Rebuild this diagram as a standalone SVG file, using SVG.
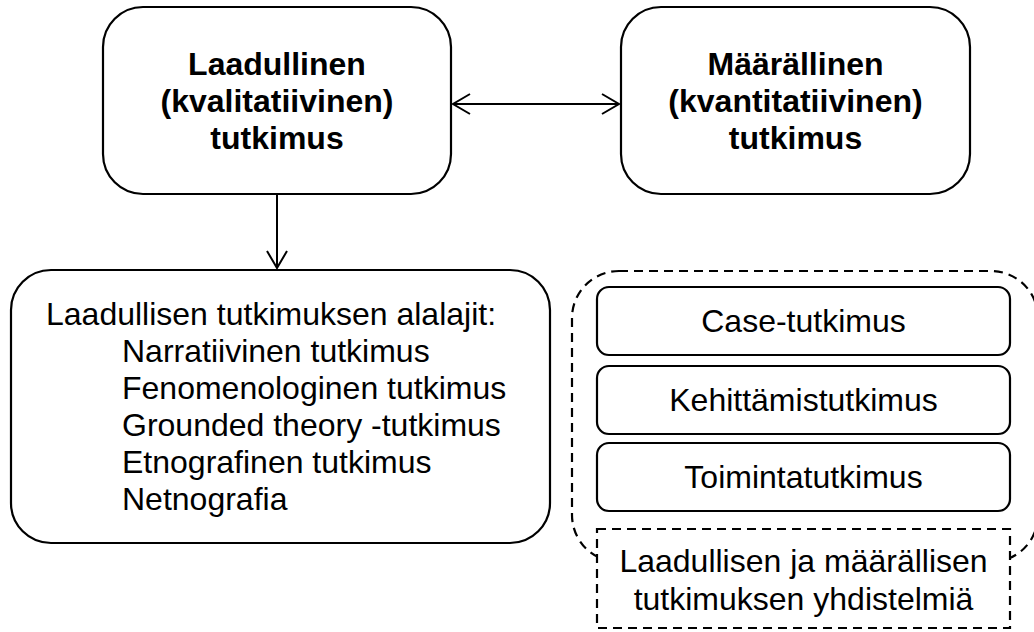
<svg xmlns="http://www.w3.org/2000/svg" width="1034" height="632" viewBox="0 0 1034 632">
  <style>
    .box { fill: #ffffff; stroke: #000000; stroke-width: 2.2; }
    .dash { fill: #ffffff; stroke: #000000; stroke-width: 2.2; stroke-dasharray: 9 6; }
    .dashnf { fill: none; stroke: #000000; stroke-width: 2.2; stroke-dasharray: 9 6; }
    .t { font-family: "Liberation Sans", Arial, sans-serif; font-size: 32px; fill: #000000; }
    .b { font-weight: bold; text-anchor: middle; }
    .c { text-anchor: middle; }
    .conn { stroke: #000000; stroke-width: 2; fill: none; }
  </style>
  <defs>
    <marker id="arrow" viewBox="-19 -11 21 22" refX="0" refY="0" markerWidth="21" markerHeight="22" markerUnits="userSpaceOnUse" orient="auto-start-reverse" overflow="visible">
      <path d="M-17,-10 L0,0 L-17,10" fill="none" stroke="#000000" stroke-width="2"/>
    </marker>
  </defs>
  <rect width="1034" height="632" fill="#ffffff"/>

  <g id="node-laadullinen">
    <rect class="box" x="103" y="7" width="348" height="187" rx="40" ry="40"/>
    <text class="t b" x="277" y="75">Laadullinen</text>
    <text class="t b" x="277" y="112">(kvalitatiivinen)</text>
    <text class="t b" x="277" y="149">tutkimus</text>
  </g>

  <g id="node-maarallinen">
    <rect class="box" x="621" y="7" width="349" height="187" rx="40" ry="40"/>
    <text class="t b" x="795.5" y="75">Määrällinen</text>
    <text class="t b" x="795.5" y="112">(kvantitatiivinen)</text>
    <text class="t b" x="795.5" y="149">tutkimus</text>
  </g>

  <g id="node-alalajit">
    <rect class="box" x="11" y="270" width="539" height="273" rx="40" ry="40"/>
    <text class="t" x="46" y="325">Laadullisen tutkimuksen alalajit:</text>
    <text class="t" x="122" y="362">Narratiivinen tutkimus</text>
    <text class="t" x="122" y="399">Fenomenologinen tutkimus</text>
    <text class="t" x="122" y="436">Grounded theory -tutkimus</text>
    <text class="t" x="122" y="473">Etnografinen tutkimus</text>
    <text class="t" x="122" y="510">Netnografia</text>
  </g>

  <g id="group-container">
    <rect class="dashnf" x="572" y="271" width="466" height="291" rx="47" ry="47"/>
  </g>

  <g id="node-case">
    <rect class="box" x="597" y="287" width="413" height="68" rx="12" ry="12"/>
    <text class="t c" x="803.5" y="332">Case-tutkimus</text>
  </g>

  <g id="node-kehittamis">
    <rect class="box" x="597" y="366" width="413" height="68" rx="12" ry="12"/>
    <text class="t c" x="803.5" y="411">Kehittämistutkimus</text>
  </g>

  <g id="node-toiminta">
    <rect class="box" x="597" y="443" width="413" height="68" rx="12" ry="12"/>
    <text class="t c" x="803.5" y="488">Toimintatutkimus</text>
  </g>

  <g id="node-yhdistelmia">
    <rect class="dash" x="597" y="529" width="413" height="99"/>
    <text class="t c" x="803.5" y="572">Laadullisen ja määrällisen</text>
    <text class="t c" x="803.5" y="610">tutkimuksen yhdistelmiä</text>
  </g>

  <g id="connectors">
    <line class="conn" x1="453" y1="104" x2="619" y2="104" marker-start="url(#arrow)" marker-end="url(#arrow)"/>
    <line class="conn" x1="277" y1="195" x2="277" y2="268" marker-end="url(#arrow)"/>
  </g>
</svg>
